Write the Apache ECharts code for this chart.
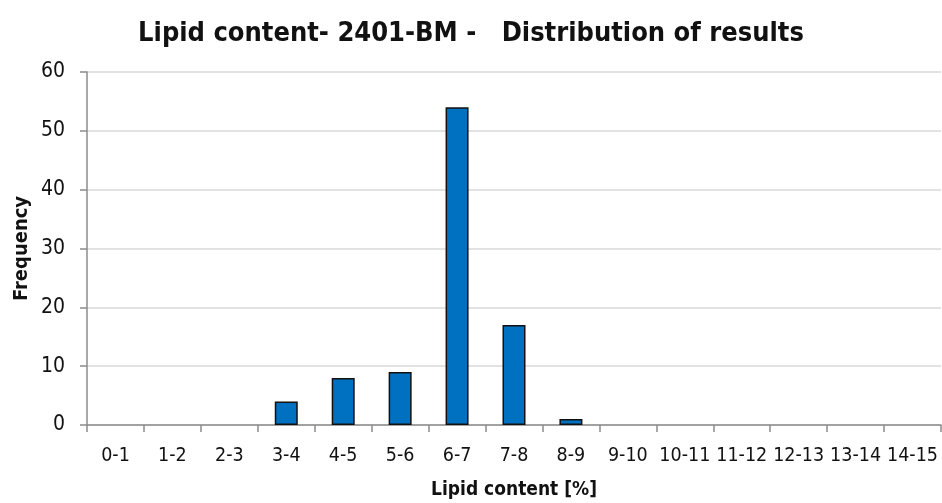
<!DOCTYPE html>
<html><head><meta charset="utf-8">
<script src="https://cdn.jsdelivr.net/npm/echarts@6/dist/echarts.min.js"></script>
<style>html,body{margin:0;padding:0;background:#fff}#c{width:942px;height:503px}</style>
</head><body><div id="c"></div>
<script>
const categories = ['0-1','1-2','2-3','3-4','4-5','5-6','6-7','7-8','8-9','9-10','10-11','11-12','12-13','13-14','14-15'];
const frequency = [0,0,0,4,8,9,54,17,1,0,0,0,0,0,0];
const yTicks = {min:0, max:60, interval:10};
const titleText = 'Lipid content- 2401-BM -   Distribution of results';
const FONT = '"DejaVu Sans Condensed", "DejaVu Sans", sans-serif';
const chart = echarts.init(document.getElementById('c'));
const barData = frequency.map(v => v === 0 ? {value: v, itemStyle: {borderWidth: 0}} : v);
chart.setOption({
  animation:false,
  backgroundColor:'#fff',
  title:{text:titleText,left:'center',top:15,textStyle:{fontFamily:FONT,fontWeight:'bold',fontSize:27,color:'#111'}},
  grid:{left:87,right:1,top:72,bottom:78,containLabel:false,outerBoundsMode:'none'},
  xAxis:{type:'category',data:categories,
    name:'Lipid content [%]',nameLocation:'middle',nameGap:56,nameMoveOverlap:false,
    nameTextStyle:{fontFamily:FONT,fontWeight:'bold',fontSize:19,color:'#111'},
    axisLine:{lineStyle:{color:'#8c8c8c',width:1.5}},
    axisTick:{show:true,length:7,alignWithLabel:false,lineStyle:{color:'#8c8c8c',width:1.5}},
    axisLabel:{fontFamily:FONT,fontSize:19.5,color:'#111',margin:21,interval:0}},
  yAxis:{type:'value',min:yTicks.min,max:yTicks.max,interval:yTicks.interval,
    name:'Frequency',nameLocation:'middle',nameGap:55,nameMoveOverlap:false,
    nameTextStyle:{fontFamily:FONT,fontWeight:'bold',fontSize:20,color:'#111'},
    axisLine:{show:true,lineStyle:{color:'#8c8c8c',width:1.5}},
    axisTick:{show:true,length:7,lineStyle:{color:'#8c8c8c',width:1.5}},
    axisLabel:{fontFamily:FONT,fontSize:21,color:'#111',margin:22},
    splitLine:{lineStyle:{color:'#d9d9d9',width:1.5}}},
  series:[{type:'bar',data:barData,barWidth:23,
    itemStyle:{color:'#0070C0',borderColor:'#111',borderWidth:1.5}}]
});
</script></body></html>
